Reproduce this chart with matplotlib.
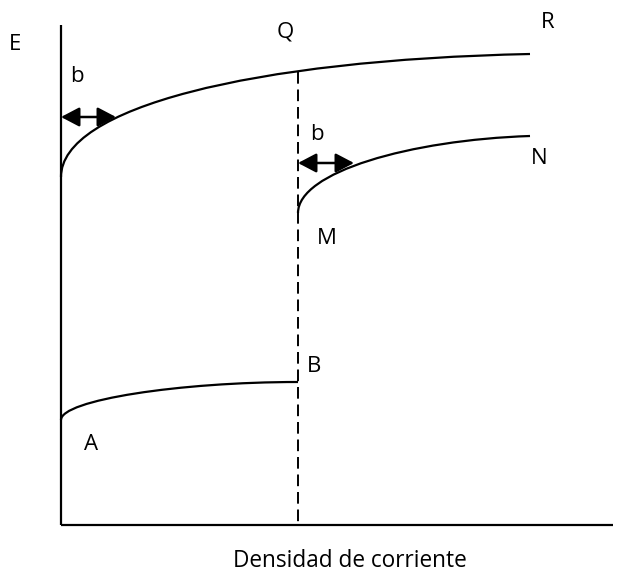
import matplotlib
matplotlib.use("Agg")
import matplotlib.pyplot as plt
from matplotlib.path import Path
from matplotlib.patches import PathPatch

# Schematic curves as cubic Bezier control points (pixel-space of the 630x573 canvas)
curve_QR = [(61, 177), (61, 108), (250, 60), (530, 54)]
curve_MN = [(298, 213), (298, 172), (410, 140), (530, 136)]
curve_AB = [(61, 420), (61, 400), (180, 382), (298, 382)]

axis_y = [(61, 25), (61, 525)]
axis_x = [(61, 525), (613, 525)]
dashed = [(298, 72), (298, 525)]

arrows = [((61, 117), (116, 117)), ((298, 163), (354, 163))]

labels = ["E", "b", "Q", "R", "b", "N", "M", "B", "A"]
label_pos = [(15, 45), (77, 76), (285, 32), (548, 22), (317, 134), (539, 159),
             (327, 238), (314, 366), (91, 445)]
xlabel = "Densidad de corriente"
xlabel_pos = (350, 561)

plt.rcParams['font.family'] = ['Open Sans', 'DejaVu Sans']

fig = plt.figure(figsize=(6.30, 5.73), dpi=100)
ax = fig.add_axes([0, 0, 1, 1])
ax.set_xlim(0, 630)
ax.set_ylim(573, 0)
ax.axis('off')

codes = [Path.MOVETO, Path.CURVE4, Path.CURVE4, Path.CURVE4]
for c in (curve_QR, curve_MN, curve_AB):
    ax.add_patch(PathPatch(Path(c, codes), fill=False, lw=1.6, edgecolor='black',
                           capstyle='butt'))

for seg in (axis_y, axis_x):
    xs, ys = zip(*seg)
    ax.plot(xs, ys, color='black', lw=1.6, solid_capstyle='butt')

xs, ys = zip(*dashed)
ax.plot(xs, ys, color='black', lw=1.4, linestyle=(0, (6, 3)))

for a, b in arrows:
    ax.annotate('', xy=b, xytext=a,
                arrowprops=dict(arrowstyle='<|-|>,head_length=0.8,head_width=0.42',
                                color='black', lw=1.8, shrinkA=0, shrinkB=0,
                                mutation_scale=14))

for t, (x, y) in zip(labels, label_pos):
    ax.text(x, y, t, fontsize=16, ha='center', va='center', color='black')

ax.text(xlabel_pos[0], xlabel_pos[1], xlabel, fontsize=16.3, ha='center', va='center',
        color='black')

fig.savefig('out.png', dpi=100)
